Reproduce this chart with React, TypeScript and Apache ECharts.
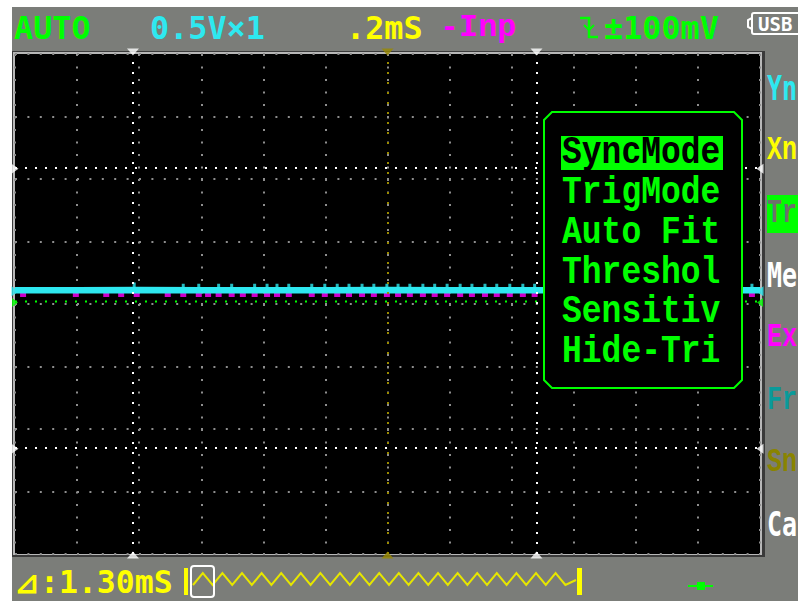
import React, { useEffect, useRef } from "react";
import * as echarts from "echarts";

// ---- header / footer / menu texts ----
const headerLabels = ["AUTO", "0.5V×1", ".2mS", "-Inp", "±100mV"];
const footerLabel = "⊿:1.30mS";
const popupItems = ["SyncMode", "TrigMode", "Auto Fit", "Threshol", "Sensitiv", "Hide-Tri"];
const sideItems = ["Yn", "Xn", "Tr", "Me", "Ex", "Fr", "Sn", "Ca"];
const usbLabel = "USB";

// ---- trace data (x in divisions, y in volts, 0.5 V/div) ----
const traceTimes = [0, 1, 2, 3, 4, 5, 6, 7, 8, 9, 10, 11, 12];
const cyanVolts = [0.11, 0.11, 0.112, 0.11, 0.111, 0.11, 0.112, 0.11, 0.11, 0.11, 0.11, 0.11, 0.11];
const cyanSpikeTimes = [1.92, 2.71, 2.96, 3.28, 3.49, 3.86, 4.06, 4.22, 4.41, 4.78, 4.99, 5.19, 5.38, 5.59, 5.78, 5.99, 6.17, 6.36, 6.57, 6.76, 6.96, 7.17, 7.36, 7.57, 7.76, 7.97, 8.18, 8.37, 11.87];
const cyanSpikeVolts = [0.14, 0.13, 0.13, 0.13, 0.13, 0.13, 0.13, 0.13, 0.13, 0.13, 0.13, 0.13, 0.13, 0.13, 0.13, 0.13, 0.13, 0.13, 0.13, 0.13, 0.13, 0.13, 0.13, 0.13, 0.13, 0.13, 0.13, 0.13, 0.13];
const magentaTimes = [0.13, 0.98, 1.47, 1.71, 1.96, 2.46, 2.71, 2.96, 3.11, 3.28, 3.49, 3.67, 3.86, 4.06, 4.22, 4.41, 4.78, 4.99, 5.19, 5.38, 5.59, 5.78, 5.99, 6.17, 6.36, 6.57, 6.76, 6.96, 7.17, 7.36, 7.57, 7.76, 7.97, 8.18, 8.37, 11.87];
const magentaVolts = [0.072, 0.072, 0.072, 0.072, 0.072, 0.072, 0.072, 0.072, 0.072, 0.072, 0.072, 0.072, 0.072, 0.072, 0.072, 0.072, 0.072, 0.072, 0.072, 0.072, 0.072, 0.072, 0.072, 0.072, 0.072, 0.072, 0.072, 0.072, 0.072, 0.072, 0.072, 0.072, 0.072, 0.072, 0.072, 0.072];
const triggerLevel = 0.02;
const timeCursors = [1.9, 8.4];
const triggerTime = 6;
const voltCursors = [1.09, -1.15];
const xMin = 0, xMax = 12, yMin = -2, yMax = 2;

const GRAY = "#7b7d79";
const CYAN = "#2ee8f0";
const GREEN = "#00ff00";
const YELLOW = "#ffff00";
const MAGENTA = "#ff00ff";
const OLIVE = "#9a8a00";

export default function App() {
  const ref = useRef<HTMLDivElement>(null);
  useEffect(() => {
    if (!ref.current) return;
    const chart = echarts.init(ref.current, undefined, { renderer: "svg" });

    const mono = "'DejaVu Sans Mono'";
    const serif = "'Liberation Mono'";
    const headerX = [14, 150, 346, 440, 604];
    const headerColors = [GREEN, CYAN, YELLOW, MAGENTA, GREEN];
    const headerFonts = [mono, mono, mono, serif, mono];

    const sideColors = [CYAN, YELLOW, "#6e706c", "#ffffff", MAGENTA, "#0a9a9a", "#8a8400", "#ffffff"];
    const sideFonts = [mono, serif, serif, mono, serif, serif, serif, mono];

    // zigzag decoration of the memory bar
    const zig: number[][] = [];
    let zx = 193, up = false;
    while (zx <= 575) {
      zig.push([zx, up ? 573 : 585]);
      up = !up;
      zx += 9.8;
    }
    zig.push([576, 580]);

    const cw = 8;
    const px1 = 544, py1 = 112, px2 = 742, py2 = 388;

    const graphics: any[] = [
      { type: "rect", z: -20, shape: { x: 12, y: 7, width: 786, height: 594 }, style: { fill: GRAY } },
      { type: "rect", z: -19, shape: { x: 12, y: 51, width: 753, height: 506 }, style: { fill: "#3a3a3a" } },
      { type: "rect", z: -18, shape: { x: 13, y: 52, width: 749, height: 503 }, style: { fill: "#b8b8b8" } },
      { type: "rect", z: -17, shape: { x: 15, y: 54, width: 745, height: 500 }, style: { fill: "#000000" } },
      ...headerLabels.map((t, i) => ({
        type: "text", z: 10, x: headerX[i], y: 28, scaleX: 1.06, scaleY: 1.05,
        style: { text: t, fill: headerColors[i], font: `bold 30px ${headerFonts[i]}`, textVerticalAlign: "middle", verticalAlign: "middle" },
      })),
      // trigger edge symbol
      { type: "polyline", z: 10, shape: { points: [[580, 18], [589, 18], [589, 37], [598, 37]] }, style: { stroke: GREEN, lineWidth: 2.5, fill: "none" } },
      { type: "polyline", z: 10, shape: { points: [[584, 25], [589, 30], [594, 25]] }, style: { stroke: GREEN, lineWidth: 2, fill: "none" } },
      // USB icon
      { type: "rect", z: 10, shape: { x: 752, y: 13, width: 60, height: 21, r: 2 }, style: { stroke: "#ffffff", lineWidth: 2, fill: "none" } },
      { type: "polyline", z: 10, shape: { points: [[752, 18], [748, 20], [748, 27], [752, 29]] }, style: { stroke: "#ffffff", lineWidth: 2, fill: "none" } },
      { type: "text", z: 10, x: 758, y: 24, style: { text: usbLabel, fill: "#ffffff", font: `bold 19px ${mono}`, textVerticalAlign: "middle", verticalAlign: "middle" } },
      // footer
      { type: "text", z: 10, x: 14, y: 582, scaleX: 1.05, scaleY: 1.05, style: { text: footerLabel, fill: YELLOW, font: `bold 30px ${mono}`, textVerticalAlign: "middle", verticalAlign: "middle" } },
      { type: "rect", z: 10, shape: { x: 184, y: 568, width: 4, height: 27 }, style: { fill: YELLOW } },
      { type: "rect", z: 10, shape: { x: 577, y: 568, width: 5, height: 27 }, style: { fill: YELLOW } },
      { type: "polyline", z: 10, shape: { points: zig }, style: { stroke: "#e6e600", lineWidth: 2, fill: "none" } },
      { type: "rect", z: 11, shape: { x: 191, y: 566, width: 23, height: 31, r: 3 }, style: { stroke: "#ffffff", lineWidth: 2, fill: "none" } },
      { type: "line", z: 10, shape: { x1: 688, y1: 586, x2: 713, y2: 586 }, style: { stroke: GREEN, lineWidth: 2 } },
      { type: "rect", z: 10, shape: { x: 697, y: 582, width: 8, height: 8 }, style: { fill: GREEN } },
      // side menu
      { type: "rect", z: 10, shape: { x: 767, y: 195, width: 40, height: 38 }, style: { fill: GREEN } },
      ...sideItems.map((t, i) => ({
        type: "text", z: 11, x: 767, y: 88 + i * 62.3, scaleX: 1, scaleY: 1.35,
        style: { text: t, fill: sideColors[i], font: `bold 25px ${sideFonts[i]}`, textVerticalAlign: "middle", verticalAlign: "middle" },
      })),
      // popup
      {
        type: "polygon", z: 50,
        shape: { points: [[px1 + cw, py1], [px2 - cw, py1], [px2, py1 + cw], [px2, py2 - cw], [px2 - cw, py2], [px1 + cw, py2], [px1, py2 - cw], [px1, py1 + cw]] },
        style: { fill: "#000000", stroke: GREEN, lineWidth: 2 },
      },
      { type: "rect", z: 51, shape: { x: 561, y: 136, width: 162, height: 34 }, style: { fill: GREEN } },
      ...popupItems.map((t, i) => ({
        type: "text", z: 52, x: 562, y: 153 + i * 39.8, scaleY: 1.15,
        style: { text: t, fill: i === 0 ? "#000000" : GREEN, font: `bold 33px ${serif}`, textVerticalAlign: "middle", verticalAlign: "middle" },
      })),
    ];

    const tri = (x: number, y: number, rot: number, off: number[], color: string, size: number[]) => ({
      value: [x, y], symbolRotate: rot, symbolOffset: off, symbolSize: size, itemStyle: { color },
    });
    const markers: any[] = [
      ...timeCursors.map((t) => tri(t, yMax, 180, [0, -2], "#ffffff", [12, 7])),
      ...timeCursors.map((t) => tri(t, yMin, 0, [0, 1], "#ffffff", [12, 7])),
      tri(triggerTime, yMax, 180, [0, -2], OLIVE, [12, 7]),
      tri(triggerTime, yMin, 0, [0, 1], OLIVE, [12, 7]),
      ...voltCursors.map((v) => tri(xMin, v, -90, [0, 1], "#ffffff", [10, 7])),
      ...voltCursors.map((v) => tri(xMax, v, 90, [0, 1], "#ffffff", [10, 7])),
      tri(xMin, cyanVolts[0], -90, [0, 1], CYAN, [10, 7]),
      tri(xMax, cyanVolts[cyanVolts.length - 1], 90, [0, 1], CYAN, [10, 7]),
      tri(xMin, triggerLevel, -90, [0, 1], GREEN, [9, 6]),
      tri(xMax, triggerLevel, 90, [0, 1], GREEN, [9, 6]),
    ];

    chart.setOption({
      animation: false,
      backgroundColor: "#ffffff",
      grid: { left: 15, top: 54, width: 745, height: 500, show: false },
      xAxis: {
        type: "value", min: xMin, max: xMax, interval: 1,
        axisLine: { show: false }, axisTick: { show: false }, axisLabel: { show: false },
        splitLine: { show: true, lineStyle: { color: "#8e8e8e", width: 2, type: [2, 10.5] } },
      },
      yAxis: {
        type: "value", min: yMin, max: yMax, interval: 0.5,
        axisLine: { show: false }, axisTick: { show: false }, axisLabel: { show: false },
        splitLine: { show: true, lineStyle: { color: "#8e8e8e", width: 2, type: [2, 10.4] } },
      },
      graphic: graphics,
      series: [
        {
          name: "trigger", type: "line", z: 2, symbol: "none", silent: true,
          data: [[xMin, triggerLevel], [xMax, triggerLevel]],
          lineStyle: { color: GREEN, width: 2, type: [2, 8] },
          markLine: {
            silent: true, symbol: ["none", "none"], label: { show: false },
            lineStyle: { color: "#ffffff", width: 2, type: [2, 8] },
            data: [
              ...timeCursors.map((t) => ({ xAxis: t })),
              ...voltCursors.map((v) => ({ yAxis: v })),
              { xAxis: triggerTime, lineStyle: { color: OLIVE, width: 2, type: [2, 8] } },
            ],
          },
        },
        {
          name: "magenta", type: "scatter", z: 3, silent: true, symbol: "rect", symbolSize: [6, 4],
          itemStyle: { color: MAGENTA },
          data: magentaTimes.map((t, i) => [t, magentaVolts[i]]),
        },
        {
          name: "cyan", type: "line", z: 4, symbol: "none", silent: true,
          lineStyle: { color: CYAN, width: 6.5 },
          data: traceTimes.map((t, i) => [t, cyanVolts[i]]),
        },
        {
          name: "cyanSpikes", type: "scatter", z: 4, silent: true, symbol: "rect", symbolSize: [3, 8],
          itemStyle: { color: CYAN },
          data: cyanSpikeTimes.map((t, i) => [t, cyanSpikeVolts[i]]),
        },
        {
          name: "markers", type: "scatter", z: 5, silent: true, symbol: "triangle", clip: false,
          data: markers,
        },
      ],
    });
    return () => chart.dispose();
  }, []);
  return <div ref={ref} style={{ position: "absolute", left: 0, top: 0, width: 798, height: 601 }} />;
}
